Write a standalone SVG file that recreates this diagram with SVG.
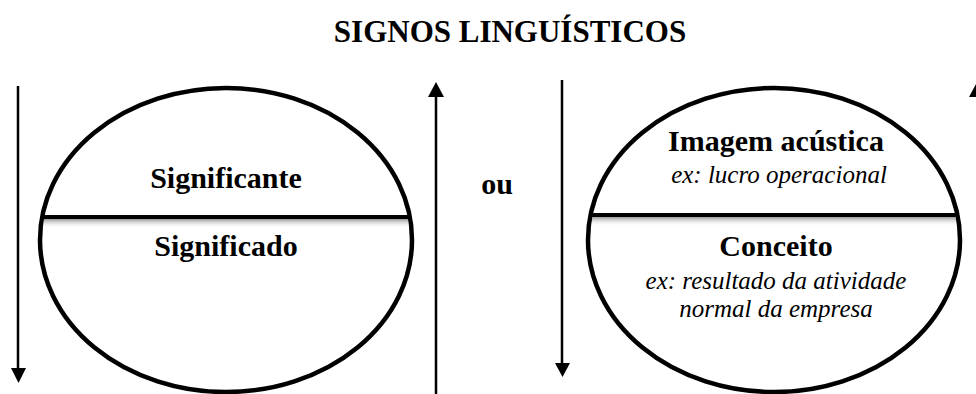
<svg xmlns="http://www.w3.org/2000/svg" width="976" height="394" viewBox="0 0 976 394">
<defs>
<style>
.ell{fill:#fff;stroke:#000;stroke-width:4.5}
.div{stroke:#000;stroke-width:4}
.arr{stroke:#000;stroke-width:2.5;fill:none}
.b{font-family:"Liberation Serif","Times New Roman",serif;font-weight:bold;font-size:30px;text-anchor:middle;fill:#000}
.i{font-family:"Liberation Serif","Times New Roman",serif;font-style:italic;font-size:25px;text-anchor:middle;fill:#000}
</style>
<linearGradient id="sh" x1="0" y1="0" x2="0" y2="1">
<stop offset="0" stop-color="#999"/>
<stop offset="1" stop-color="#fff" stop-opacity="0"/>
</linearGradient>
<clipPath id="c1"><ellipse cx="226" cy="240" rx="184" ry="150"/></clipPath>
<clipPath id="c2"><ellipse cx="774" cy="240" rx="184" ry="150"/></clipPath>
</defs>
<text x="510" y="42" class="b" style="font-size:31px">SIGNOS LINGUÍSTICOS</text>
<g id="connectors">
<line class="arr" x1="18" y1="86" x2="18" y2="370"/>
<polygon points="11,368 26,368 18.5,383"/>
<line class="arr" x1="436" y1="95" x2="436" y2="394"/>
<polygon points="428,97 444,97 436,82"/>
<line class="arr" x1="562" y1="80" x2="562" y2="365"/>
<polygon points="555,363 570,363 562.5,377"/>
<polygon points="969,97 985,97 977,82"/>
</g>
<g id="node-left">
<ellipse class="ell" cx="226" cy="240" rx="186" ry="152"/>
<rect x="40" y="219" width="372" height="9" fill="url(#sh)" clip-path="url(#c1)"/>
<line class="div" x1="41" y1="217" x2="411" y2="217"/>
<text x="226" y="188" class="b">Significante</text>
<text x="226" y="256" class="b">Significado</text>
</g>
<g id="node-ou">
<text x="497" y="194" class="b">ou</text>
</g>
<g id="node-right">
<ellipse class="ell" cx="774" cy="240" rx="186" ry="152"/>
<rect x="588" y="217" width="372" height="9" fill="url(#sh)" clip-path="url(#c2)"/>
<line class="div" x1="589" y1="215" x2="959" y2="215"/>
<text x="776" y="151" class="b">Imagem acústica</text>
<text x="779" y="183" class="i">ex: lucro operacional</text>
<text x="776" y="256" class="b">Conceito</text>
<text x="776" y="289" class="i">ex: resultado da atividade</text>
<text x="776" y="317" class="i">normal da empresa</text>
</g>
</svg>
